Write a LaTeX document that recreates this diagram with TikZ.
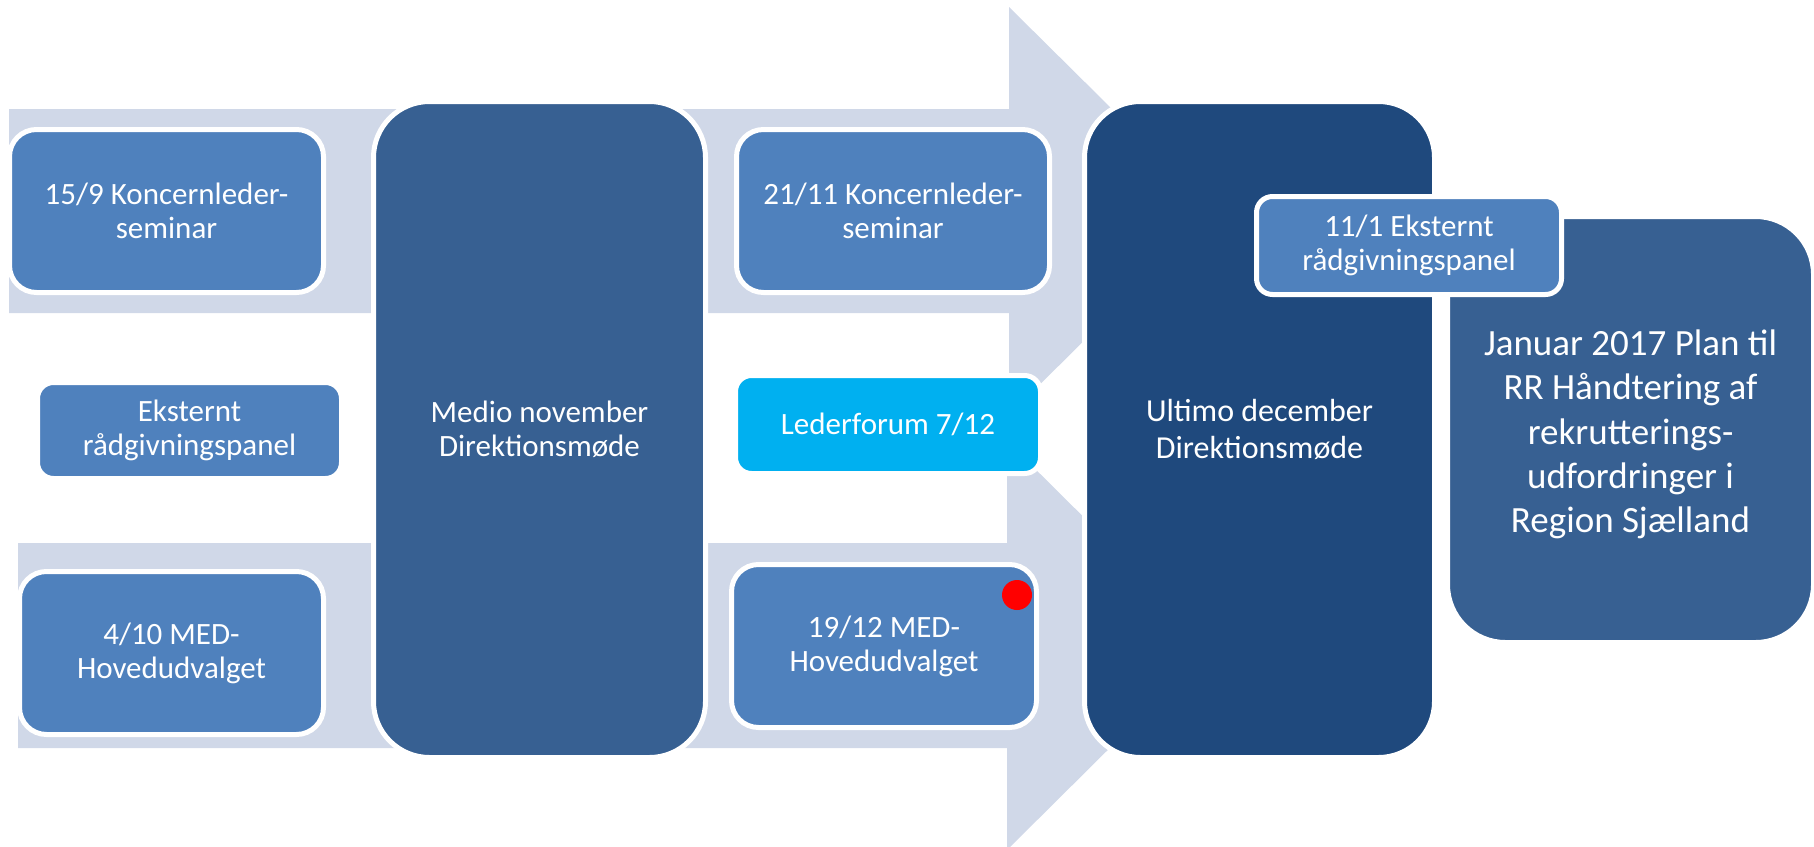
\documentclass[tikz,border=0pt]{standalone}
\usepackage{fontspec}
\setmainfont{Carlito}
\definecolor{band}{HTML}{D0D8E8}
\definecolor{cbox}{HTML}{4F81BD}
\definecolor{cmid}{HTML}{376092}
\definecolor{cdark}{HTML}{1F497D}
\definecolor{ccyan}{HTML}{00B0F0}
\begin{document}
\begin{tikzpicture}[x=1pt,y=-1pt,
  box/.style={rectangle, draw=white, line width=5pt, text=white, align=center, inner sep=0pt},
  small/.style={box, fill=cbox, rounded corners=27pt, font=\fontsize{31}{34}\selectfont},
  flat/.style={box, rounded corners=16pt, font=\fontsize{31}{34}\selectfont},
  big/.style={box, rounded corners=56pt, font=\fontsize{31}{34}\selectfont}]
\useasboundingbox (0,0) rectangle (1814,846);
% background arrows
\fill[band] (9,109) -- (1009,109) -- (1009,7) -- (1215,211) -- (1009,415) -- (1009,313) -- (9,313) -- cycle;
\fill[band] (18,543) -- (1007,543) -- (1007,441) -- (1213,645.5) -- (1007,850) -- (1007,748) -- (18,748) -- cycle;
% left column
\node[small, minimum width=314pt, minimum height=163pt] (k1) at (166.5,211) {15/9 Koncernleder-\\seminar};
\node[flat, fill=cbox, minimum width=304pt, minimum height=96pt] (e1) at (189.5,430.5) {Eksternt\\rådgivningspanel};
\node[small, minimum width=304pt, minimum height=163pt] (m1) at (171.5,653) {4/10 MED-\\Hovedudvalget};
% medio
\node[big, fill=cmid, minimum width=332pt, minimum height=656pt] (medio) at (539.5,429.5) {Medio november\\Direktionsmøde};
% middle column
\node[small, minimum width=313pt, minimum height=163pt] (k2) at (893,211) {21/11 Koncernleder-\\seminar};
\node[flat, fill=ccyan, minimum width=305pt, minimum height=98pt] (led) at (888,424.5) {Lederforum 7/12};
\node[small, minimum width=305pt, minimum height=163pt] (m2) at (884,646) {19/12 MED-\\Hovedudvalget};
\node[circle, fill=red, minimum size=30pt, inner sep=0pt] (dot) at (1017,595) {};
% ultimo
\node[big, fill=cdark, minimum width=350pt, minimum height=656pt, font=\fontsize{32}{37}\selectfont] (ult) at (1259.5,429.5) {Ultimo december\\Direktionsmøde};
% januar
\node[big, fill=cmid, rounded corners=58pt, minimum width=366pt, minimum height=426pt,
  label={[text=white, align=center, inner sep=0pt, yshift=-5pt, font=\fontsize{37}{44.3}\selectfont]center:Januar 2017 Plan til\\RR Håndtering af\\rekrutterings-\\udfordringer i\\Region Sjælland}] (jan) at (1630.5,429.5) {};
\node[flat, fill=cbox, minimum width=305pt, minimum height=98pt] (e2) at (1409,245.5) {11/1 Eksternt\\rådgivningspanel};
\end{tikzpicture}
\end{document}
